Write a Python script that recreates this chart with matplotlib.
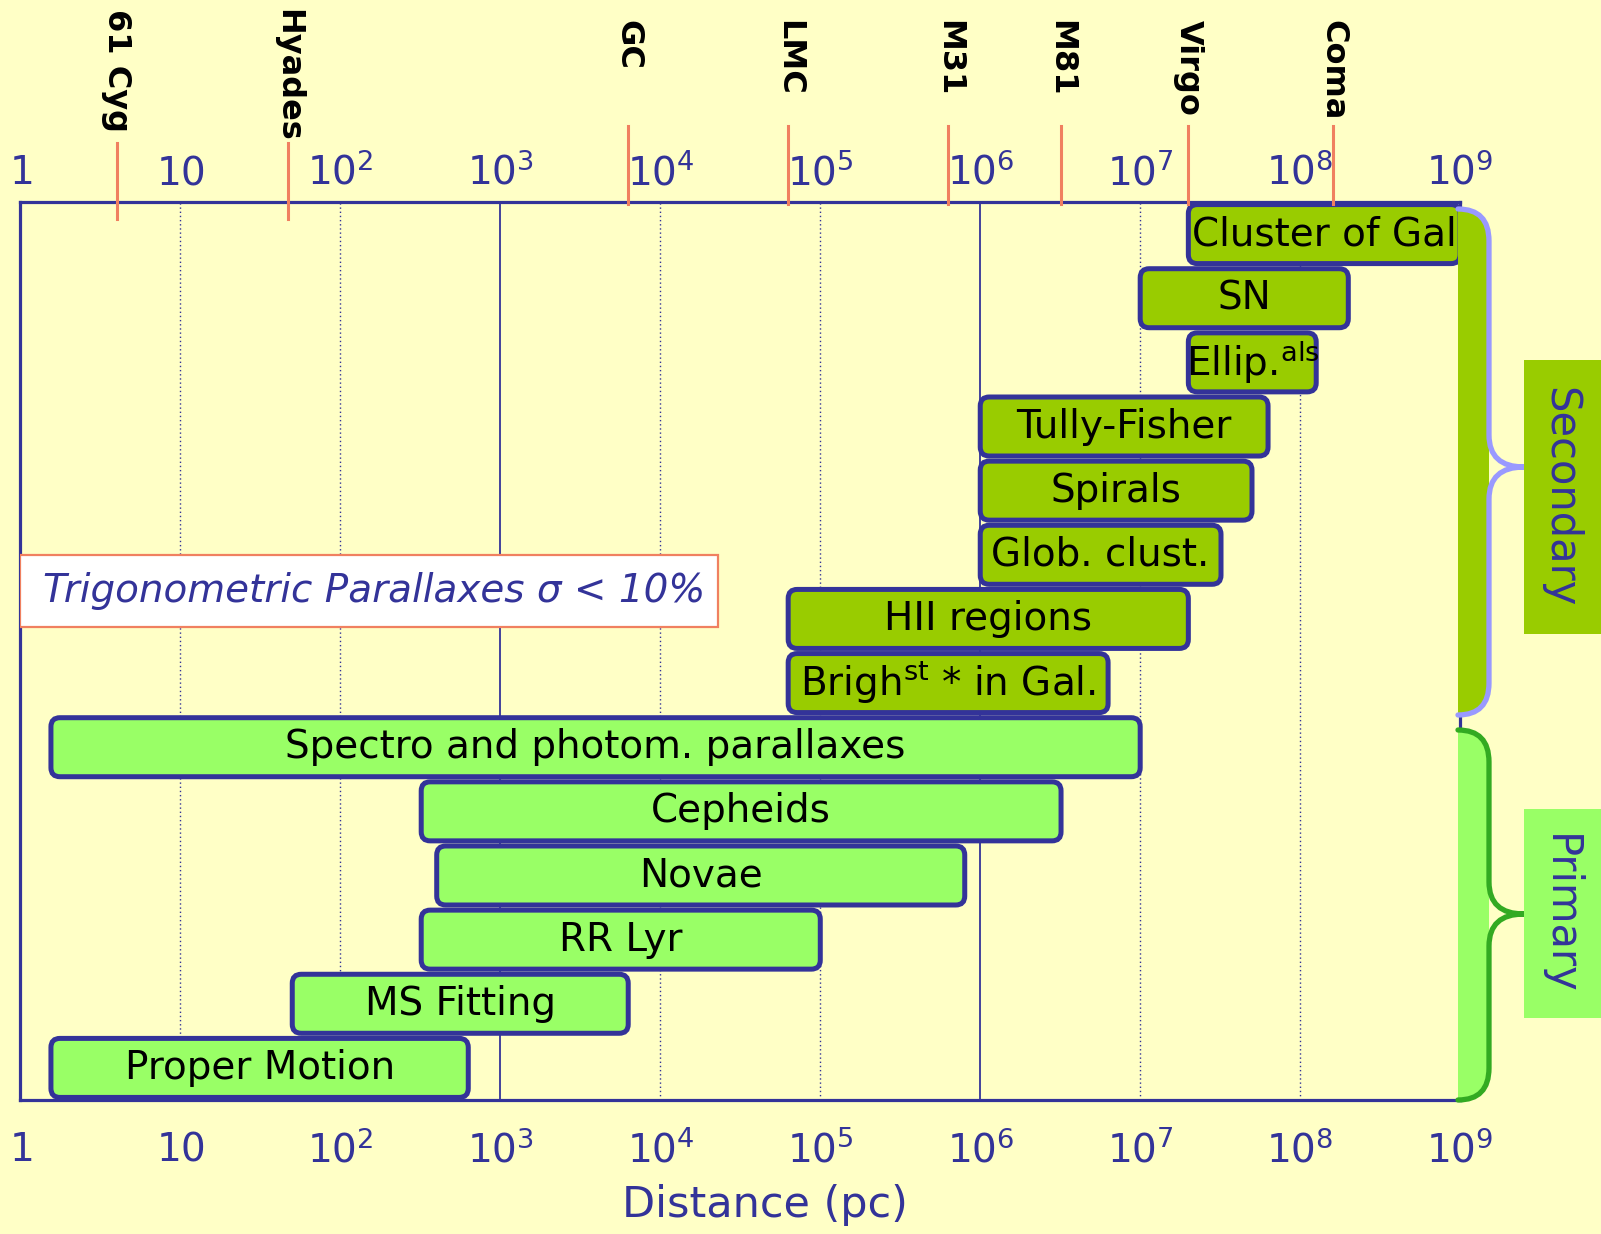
import matplotlib.pyplot as plt
import numpy as np
import matplotlib.transforms as mtransforms
from matplotlib.patches import FancyBboxPatch, Rectangle, PathPatch
from matplotlib.path import Path

plt.rcParams['font.family'] = ['DejaVu Sans']

# distance ranges of the methods (pc), top row first
methods = ["Cluster of Gal", "SN", r"Ellip.$^{\mathregular{als}}$", "Tully-Fisher", "Spirals",
           "Glob. clust.", "HII regions", r"Brigh$^{\mathregular{st}}$ * in Gal.",
           "Spectro and photom. parallaxes", "Cepheids", "Novae", "RR Lyr", "MS Fitting",
           "Proper Motion"]
d_min = [2e7, 1e7, 2e7, 1e6, 1e6, 1e6, 6.3e4, 6.3e4, 1.55, 320, 400, 320, 50, 1.55]
d_max = [1e9, 2e8, 1.26e8, 6.3e7, 5e7, 3.2e7, 2e7, 6.3e6, 1e7, 3.2e6, 8e5, 1e5, 6.3e3, 630]
kind = ["secondary"] * 8 + ["primary"] * 6

# reference objects along the top
objects = ["61 Cyg", "Hyades", "GC", "LMC", "M31", "M81", "Virgo", "Coma"]
obj_dist = [4, 47, 6300, 6.3e4, 6.3e5, 3.2e6, 2e7, 1.6e8]

decades = np.arange(0, 10)
tick_labels = [r"$\mathregular{1}$", r"$\mathregular{10}$"] + \
              [r"$\mathregular{10^{%d}}$" % d for d in decades[2:]]

BG = "#FFFFC6"
DARK = "#333399"
SEC = "#99CC00"
PRI = "#99FF66"
ORANGE = "#F08060"

fig = plt.figure(figsize=(16.01, 12.34), dpi=100, facecolor=BG)
ax = fig.add_axes([0.0128, 0.1086, 0.8992, 0.7277], facecolor=BG)
ax.set_xscale("log")
ax.set_xlim(1, 1e9)
ax.set_ylim(len(methods), 0)
ax.set_yticks([])
ax.xaxis.set_minor_locator(plt.NullLocator())
ax.set_xticks(10.0 ** decades)
ax.set_xticklabels(tick_labels)
ax.tick_params(axis='x', length=0, labelsize=28, labelcolor=DARK, pad=22)
for s in ax.spines.values():
    s.set_color(DARK)
    s.set_linewidth(2.3)

top = ax.secondary_xaxis('top')
top.xaxis.set_minor_locator(plt.NullLocator())
top.set_xticks(10.0 ** decades)
top.set_xticklabels(tick_labels)
top.tick_params(axis='x', length=0, labelsize=28, labelcolor=DARK, pad=7)
top.spines['top'].set_visible(False)

ax.set_xlabel("Distance (pc)", fontsize=31, color=DARK, labelpad=10, x=0.517)

# grid
for d in decades[1:-1]:
    solid = d in (3, 6)
    ax.axvline(10.0 ** d, color=DARK, lw=1.3 if solid else 1.0,
               ls='-' if solid else (0, (1, 2)), zorder=1)

# bars with rounded corners (drawn in pixels from the data transform)
for i, (name, a, b, k) in enumerate(zip(methods, d_min, d_max, kind)):
    y0, y1 = i + 0.04, i + 0.96
    (px0, py0) = ax.transData.transform((a, y1))
    (px1, py1) = ax.transData.transform((b, y0))
    box = FancyBboxPatch((px0, py0), px1 - px0, py1 - py0,
                         boxstyle="round,pad=0,rounding_size=9",
                         transform=mtransforms.IdentityTransform(),
                         fc=SEC if k == "secondary" else PRI, ec=DARK, lw=3.6,
                         zorder=3, clip_on=False)
    ax.add_artist(box)
    ax.text(np.sqrt(a * b), i + 0.5, name, ha='center', va='center',
            fontsize=28, color='black', zorder=4)

# reference objects
tr = mtransforms.blended_transform_factory(ax.transData, ax.transAxes)
for name, d in zip(objects, obj_dist):
    near = d < 100
    lo, hi = (0.981, 1.066) if near else (0.998, 1.085)
    ax.plot([d, d], [lo, hi], transform=tr, color=ORANGE, lw=2.2, clip_on=False, zorder=5)
    ax.text(d, 1.215 if near else 1.203, name, transform=tr, rotation=270,
            ha='center', va='top', fontsize=23, fontweight='bold', color='black')

# trigonometric parallax box
ax.add_patch(Rectangle((1, 5.51), 2.3e4 - 1, 1.11, fc='white', ec=ORANGE, lw=1.6, zorder=3))
ax.text(162, 6.07, "Trigonometric Parallaxes σ < 10%", ha='center', va='center',
        fontsize=28, style='italic', color=DARK, zorder=4)

# braces on the right (pixel overlay)
ov = fig.add_axes([0, 0, 1, 1])
ov.set_xlim(0, 1601)
ov.set_ylim(1234, 0)
ov.axis('off')
ov.patch.set_alpha(0)


def brace(ytop, ytip, ybot, fill, line, xf=1458, xv=1489, xt=1524, r=32):
    fverts = [(xf, ytop), (xv, ytop), (xv, ytop + r), (xv, ybot - r), (xv, ybot), (xf, ybot), (xf, ytop)]
    fcodes = [Path.MOVETO, Path.CURVE3, Path.CURVE3, Path.LINETO, Path.CURVE3, Path.CURVE3, Path.CLOSEPOLY]
    ov.add_patch(PathPatch(Path(fverts, fcodes), fc=fill, ec='none'))
    verts = [(xf, ytop), (xv, ytop), (xv, ytop + r), (xv, ytip - r), (xv, ytip), (xt, ytip),
             (xv, ytip), (xv, ytip + r), (xv, ybot - r), (xv, ybot), (xf, ybot)]
    codes = [Path.MOVETO, Path.CURVE3, Path.CURVE3, Path.LINETO, Path.CURVE3, Path.CURVE3,
             Path.CURVE3, Path.CURVE3, Path.LINETO, Path.CURVE3, Path.CURVE3]
    ov.add_patch(PathPatch(Path(verts, codes), fc='none', ec=line, lw=3.8, capstyle='round'))


brace(209, 467, 715, SEC, "#9999FF")
brace(730, 914, 1100, PRI, "#33AA22")

ov.add_patch(Rectangle((1524, 360), 77, 274, fc=SEC, ec='none'))
ov.text(1560, 497, "Secondary", rotation=270, ha='center', va='center', fontsize=30, color=DARK)
ov.add_patch(Rectangle((1524, 809), 77, 209, fc=PRI, ec='none'))
ov.text(1560, 914, "Primary", rotation=270, ha='center', va='center', fontsize=30, color=DARK)

fig.savefig("out.png", dpi=100, facecolor=BG)
